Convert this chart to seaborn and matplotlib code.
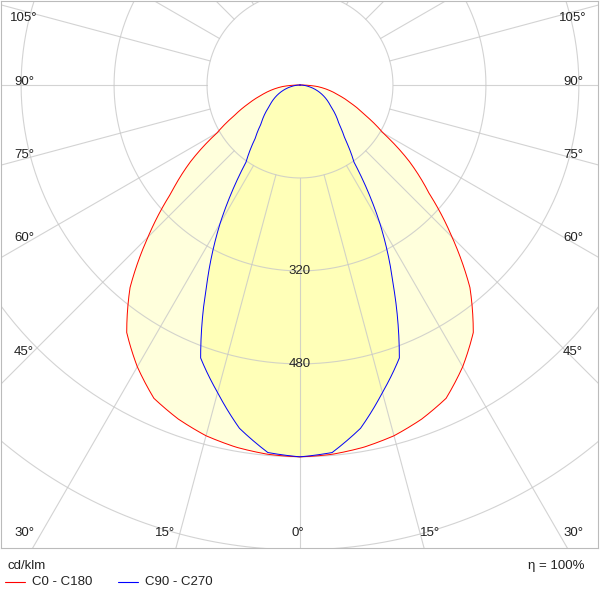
import numpy as np
import matplotlib
matplotlib.use("Agg")
import matplotlib.pyplot as plt
import seaborn as sns

angles = [0, 5, 10, 15, 20, 25, 30, 35, 40, 45, 50, 55, 60, 65, 70, 75, 80, 85, 90]
c0_c180 = [640, 638, 633, 625, 612, 595, 560, 520, 455, 370, 290, 230, 165, 125, 95, 70, 50, 30, 0]
c90_c270 = [640, 635, 600, 548, 500, 380, 275, 162, 120, 95, 80, 65, 55, 45, 35, 25, 15, 7, 0]
ring_values = [160, 320, 480, 640, 800, 960]
ring_labels = ["320", "480"]
side_labels = ["105°", "90°", "75°", "60°", "45°"]
bottom_labels = ["30°", "15°", "0°", "15°", "30°"]

sns.set_theme(style="white", font="Liberation Sans")
W, H = 600, 594
fig = plt.figure(figsize=(6, 5.94), dpi=100)
s = 1 / 0.581
cx, cy = 300, 85
left, right, top, bot = 1, 598, 1, 548
ax = fig.add_axes([left / W, 1 - bot / H, (right - left) / W, (bot - top) / H])
ax.set_xlim((left - cx) * s, (right - cx) * s)
ax.set_ylim(-(bot - cy) * s, (cy - top) * s)
ax.set_xticks([]); ax.set_yticks([])
for sp in ax.spines.values():
    sp.set_color("#bbbbbb"); sp.set_linewidth(0.8)

def curve(vals):
    fine = np.linspace(0, 90, 361)
    v = np.interp(fine, angles, vals)
    th = np.radians(fine)
    thf = np.concatenate([-th[::-1], th[1:]])
    vf = np.concatenate([v[::-1], v[1:]])
    return vf * np.sin(thf), -vf * np.cos(thf)

x1, y1 = curve(c0_c180)
x2, y2 = curve(c90_c270)
ax.fill(x1, y1, color="#ffffdc", zorder=1)
ax.fill(x2, y2, color="#ffffb8", zorder=1.5)

t = np.linspace(0, 2 * np.pi, 400)
for r in ring_values:
    ax.plot(r * np.sin(t), r * np.cos(t), color="#c8c8c8", lw=0.8, alpha=0.8, zorder=2)
for a in range(-180, 181, 15):
    th = np.radians(a)
    ax.plot([160 * np.sin(th), 2000 * np.sin(th)], [-160 * np.cos(th), -2000 * np.cos(th)],
            color="#c8c8c8", lw=0.8, alpha=0.8, zorder=2)

ax.plot(x1, y1, color="red", lw=0.7, zorder=4)
ax.plot(x2, y2, color="blue", lw=0.7, zorder=5)

for lab, r in zip(ring_labels, [320, 480]):
    ax.text(0, -r, lab, ha="center", va="center", fontsize=9.5, zorder=6)

def ft(x, y, txt, ha="center"):
    fig.text(x / W, 1 - y / H, txt, ha=ha, va="center", fontsize=9.5, color="#222222")

for lab, y in zip(side_labels, [18, 82, 155, 238, 352]):
    ft(24, y, lab)
    ft(573, y, lab)
for lab, x in zip(bottom_labels, [24, 165, 298, 430, 573]):
    ft(x, 533, lab)

ft(8, 566, "cd/klm", ha="left")
ft(585, 566, "η = 100%", ha="right")
fig.add_artist(plt.Line2D([5 / W, 25 / W], [1 - 582 / H] * 2, color="red", lw=0.8))
ft(32, 582, "C0 - C180", ha="left")
fig.add_artist(plt.Line2D([118 / W, 138 / W], [1 - 582 / H] * 2, color="blue", lw=0.8))
ft(145, 582, "C90 - C270", ha="left")

fig.savefig("out.png", dpi=100, facecolor="white")
